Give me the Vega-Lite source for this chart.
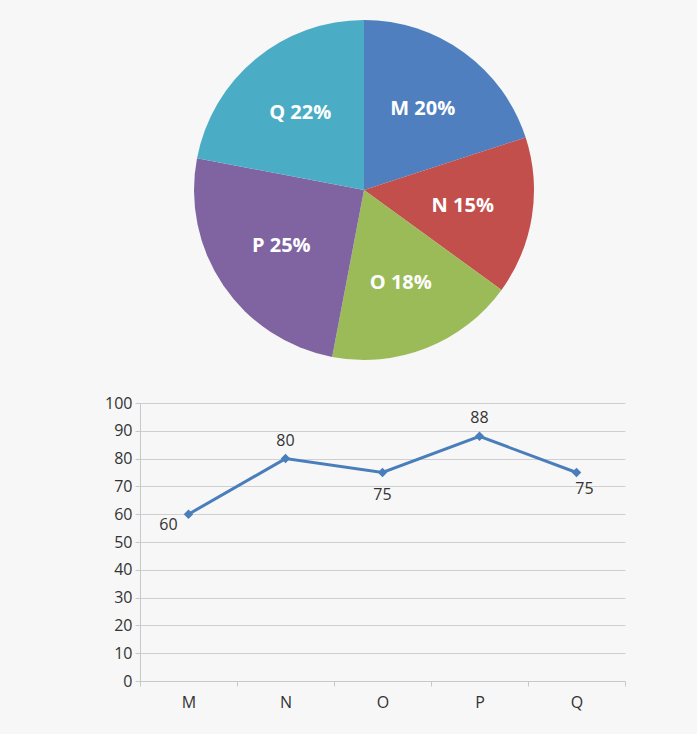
{
  "$schema": "https://vega.github.io/schema/vega-lite/v6.json",
  "background": "#f7f7f7",
  "padding": {"left": 104, "top": 20, "right": 72, "bottom": 26},
  "config": {
    "font": "Open Sans",
    "view": {"stroke": null},
    "axis": {"labelFont": "Open Sans", "labelColor": "#333333", "labelFontSize": 16}
  },
  "spacing": 35,
  "vconcat": [
    {
      "width": 448,
      "height": 340,
      "data": {"values": [
        {"cat": "M", "pct": 20},
        {"cat": "N", "pct": 15},
        {"cat": "O", "pct": 18},
        {"cat": "P", "pct": 25},
        {"cat": "Q", "pct": 22}
      ]},
      "transform": [{"calculate": "datum.cat + ' ' + datum.pct + '%'", "as": "label"}],
      "encoding": {
        "theta": {"field": "pct", "type": "quantitative", "stack": true},
        "order": {"field": "cat", "sort": "ascending"}
      },
      "layer": [
        {
          "mark": {"type": "arc", "outerRadius": 170},
          "encoding": {
            "color": {
              "field": "cat", "type": "nominal", "legend": null,
              "scale": {"domain": ["M", "N", "O", "P", "Q"], "range": ["#4f7fbf", "#c24f4c", "#9bbb59", "#8064a2", "#4bacc6"]}
            }
          }
        },
        {
          "mark": {"type": "text", "radius": 100, "color": "white", "fontSize": 20, "fontWeight": "bold", "font": "Open Sans"},
          "encoding": {
            "detail": {"field": "cat", "type": "nominal"},
            "text": {"field": "label", "type": "nominal"}
          }
        }
      ]
    },
    {
      "width": 485,
      "height": 278,
      "data": {"values": [
        {"cat": "M", "value": 60},
        {"cat": "N", "value": 80},
        {"cat": "O", "value": 75},
        {"cat": "P", "value": 88},
        {"cat": "Q", "value": 75}
      ]},
      "encoding": {
        "x": {
          "field": "cat", "type": "nominal", "bandPosition": 0.5,
          "scale": {"type": "band", "paddingInner": 0, "paddingOuter": 0},
          "axis": {"title": null, "labelAngle": 0, "tickBand": "extent", "domainColor": "#c8c8c8", "tickColor": "#c8c8c8", "tickSize": 5, "labelPadding": 8, "labelFontSize": 16, "grid": false}
        },
        "y": {
          "field": "value", "type": "quantitative",
          "scale": {"domain": [0, 100]},
          "axis": {"title": null, "values": [0, 10, 20, 30, 40, 50, 60, 70, 80, 90, 100], "domain": true, "domainColor": "#c8c8c8", "tickColor": "#c8c8c8", "tickSize": 5, "labelPadding": 3, "gridColor": "#cfcfcf", "gridWidth": 1}
        }
      },
      "layer": [
        {
          "mark": {"type": "line", "color": "#4a7ebb", "strokeWidth": 3, "point": {"shape": "diamond", "size": 90, "filled": true, "color": "#4a7ebb"}}
        },
        {
          "transform": [{"filter": "datum.cat == 'N' || datum.cat == 'P'"}],
          "mark": {"type": "text", "dy": -18, "fontSize": 16, "color": "#333333"},
          "encoding": {"text": {"field": "value", "type": "quantitative"}}
        },
        {
          "transform": [{"filter": "datum.cat == 'O'"}],
          "mark": {"type": "text", "dy": 22, "fontSize": 16, "color": "#333333"},
          "encoding": {"text": {"field": "value", "type": "quantitative"}}
        },
        {
          "transform": [{"filter": "datum.cat == 'M'"}],
          "mark": {"type": "text", "dx": -20, "dy": 11, "fontSize": 16, "color": "#333333"},
          "encoding": {"text": {"field": "value", "type": "quantitative"}}
        },
        {
          "transform": [{"filter": "datum.cat == 'Q'"}],
          "mark": {"type": "text", "dx": 8, "dy": 16, "fontSize": 16, "color": "#333333"},
          "encoding": {"text": {"field": "value", "type": "quantitative"}}
        }
      ]
    }
  ]
}
